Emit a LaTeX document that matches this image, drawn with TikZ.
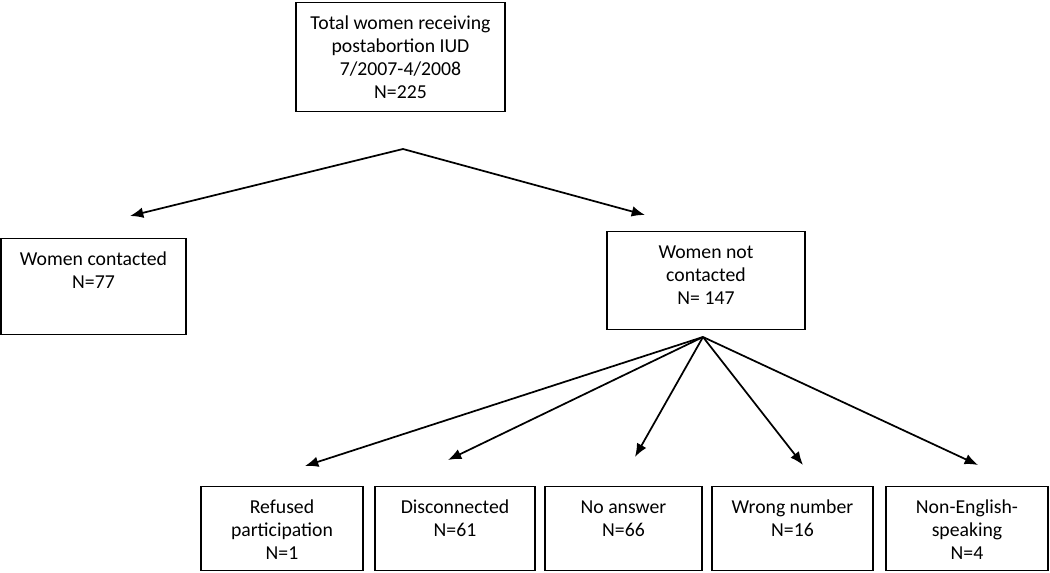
\documentclass[tikz,border=0pt]{standalone}
\usepackage{fontspec}
\setmainfont{Carlito}
\usepackage{tikz}
\usetikzlibrary{arrows.meta,positioning,calc}
\newcommand{\boxlines}[1]{\begin{tabular}[t]{@{}c@{}}#1\end{tabular}}

\begin{document}
\begin{tikzpicture}[
    x=0.75pt,y=-0.75pt,
    box/.style={rectangle,draw,line width=1.1pt,inner sep=0pt,text height=20pt,anchor=north,font=\fontsize{14.8}{17.25}\selectfont},
    link/.style={->,line width=1.3pt},
    >={Latex[length=10pt,width=8pt]}]
    \useasboundingbox (0,0) rectangle (1050,573);
    \node[box,minimum width=156.75pt,text depth=61.75pt] (total) at (400.5,2) {\boxlines{Total women receiving\\postabortion IUD\\7/2007-4/2008\\N=225}};
    \node[box,minimum width=138.75pt,text depth=52pt] (contacted) at (93.5,238) {\boxlines{Women contacted\\N=77}};
    \node[box,minimum width=148.5pt,text depth=53.5pt] (notcontacted) at (706,231) {\boxlines{Women not\\contacted\\N= 147}};
    \node[box,minimum width=121.5pt,text depth=43pt] (refused) at (282,486) {\boxlines{Refused\\participation\\N=1}};
    \node[box,minimum width=120pt,text depth=43pt] (disconnected) at (455,486) {\boxlines{Disconnected\\N=61}};
    \node[box,minimum width=117.75pt,text depth=43pt] (noanswer) at (623.5,486) {\boxlines{No answer\\N=66}};
    \node[box,minimum width=120.75pt,text depth=43pt] (wrongnumber) at (792.5,486) {\boxlines{Wrong number\\N=16}};
    \node[box,minimum width=121.5pt,text depth=43pt] (nonenglish) at (967,486) {\boxlines{Non-English-\\speaking\\N=4}};
    % split points and arrow ends
    \coordinate (split1) at (403,149);
    \coordinate (split2) at (703,337);
    \coordinate (toContacted) at (130,216);
    \coordinate (toNotContacted) at (645,215);
    \coordinate (toRefused) at (305,466);
    \coordinate (toDisconnected) at (448,460);
    \coordinate (toNoAnswer) at (635,457);
    \coordinate (toWrongNumber) at (803,465);
    \coordinate (toNonEnglish) at (978,465);
    \draw[link] (split1) -- (toContacted);
    \draw[link] (split1) -- (toNotContacted);
    \draw[link] (split2) -- (toRefused);
    \draw[link] (split2) -- (toDisconnected);
    \draw[link] (split2) -- (toNoAnswer);
    \draw[link] (split2) -- (toWrongNumber);
    \draw[link] (split2) -- (toNonEnglish);
  \end{tikzpicture}
\end{document}
